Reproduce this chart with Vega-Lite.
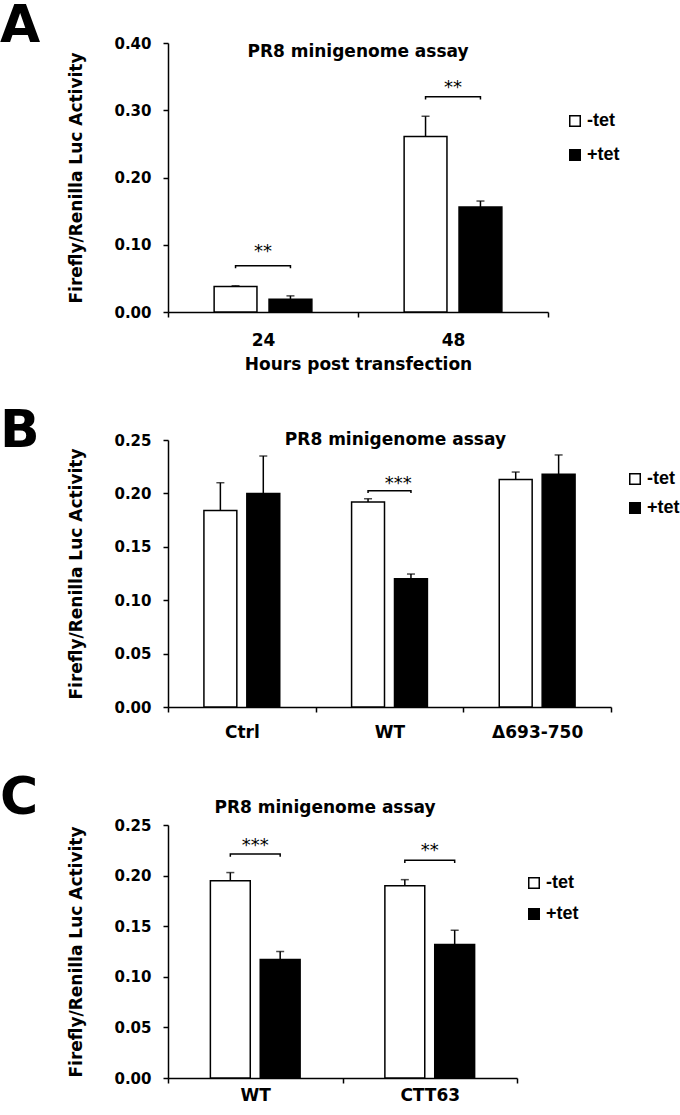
{
  "$schema": "https://vega.github.io/schema/vega-lite/v6.json",
  "padding": 0,
  "background": "white",
  "spacing": 32,
  "config": {
    "view": {"stroke": null},
    "font": "DejaVu Sans",
    "axis": {"domainColor": "black", "domainWidth": 1.5, "tickColor": "black", "tickWidth": 1.5, "tickSize": 5, "labelColor": "black", "labelFont": "DejaVu Sans", "labelFontWeight": "bold", "titleColor": "black", "titleFont": "DejaVu Sans", "titleFontWeight": "bold", "titleFontSize": 17, "grid": false},
    "legend": {"orient": "none", "title": null, "symbolType": "square", "symbolSize": 110, "symbolStrokeColor": "black", "symbolStrokeWidth": 1.5, "labelFont": "Liberation Sans", "labelFontWeight": "bold", "labelFontSize": 18, "labelColor": "black", "labelOffset": 3, "padding": 0},
    "title": {"font": "DejaVu Sans", "fontWeight": "bold", "fontSize": 52, "color": "black", "anchor": "start", "frame": "group", "baseline": "alphabetic"}
  },
  "resolve": {"scale": {"x": "independent", "y": "independent", "fill": "independent", "xOffset": "independent"}, "legend": {"fill": "independent"}},
  "datasets": {
    "a_bars": [
      {"hours": "24", "cond": "-tet", "value": 0.038, "hi": 0.039},
      {"hours": "24", "cond": "+tet", "value": 0.019, "hi": 0.024},
      {"hours": "48", "cond": "-tet", "value": 0.261, "hi": 0.291},
      {"hours": "48", "cond": "+tet", "value": 0.156, "hi": 0.165}
    ],
    "a_brackets": [
      {"hours": "24", "cond": "-tet", "value": 0.065, "seq": 1, "id": "a24"},
      {"hours": "24", "cond": "-tet", "value": 0.0688, "seq": 2, "id": "a24"},
      {"hours": "24", "cond": "+tet", "value": 0.0688, "seq": 3, "id": "a24"},
      {"hours": "24", "cond": "+tet", "value": 0.065, "seq": 4, "id": "a24"},
      {"hours": "48", "cond": "-tet", "value": 0.316, "seq": 1, "id": "a48"},
      {"hours": "48", "cond": "-tet", "value": 0.320, "seq": 2, "id": "a48"},
      {"hours": "48", "cond": "+tet", "value": 0.320, "seq": 3, "id": "a48"},
      {"hours": "48", "cond": "+tet", "value": 0.316, "seq": 4, "id": "a48"}
    ],
    "a_stars": [
      {"hours": "24", "value": 0.082, "label": "**"},
      {"hours": "48", "value": 0.325, "label": "**"}
    ],
    "a_title": [{"hours": "48", "value": 0.379, "label": "PR8 minigenome assay"}],
    "b_bars": [
      {"grp": "Ctrl", "cond": "-tet", "value": 0.184, "hi": 0.210},
      {"grp": "Ctrl", "cond": "+tet", "value": 0.200, "hi": 0.235},
      {"grp": "WT", "cond": "-tet", "value": 0.192, "hi": 0.195},
      {"grp": "WT", "cond": "+tet", "value": 0.120, "hi": 0.1245},
      {"grp": "Δ693-750", "cond": "-tet", "value": 0.213, "hi": 0.220},
      {"grp": "Δ693-750", "cond": "+tet", "value": 0.218, "hi": 0.236}
    ],
    "b_brackets": [
      {"grp": "WT", "cond": "-tet", "value": 0.2004, "seq": 1, "id": "bwt"},
      {"grp": "WT", "cond": "-tet", "value": 0.2025, "seq": 2, "id": "bwt"},
      {"grp": "WT", "cond": "+tet", "value": 0.2025, "seq": 3, "id": "bwt"},
      {"grp": "WT", "cond": "+tet", "value": 0.2004, "seq": 4, "id": "bwt"}
    ],
    "b_stars": [{"grp": "WT", "value": 0.2045, "label": "***"}],
    "b_title": [{"grp": "WT", "value": 0.2456, "label": "PR8 minigenome assay"}],
    "c_bars": [
      {"grp2": "WT", "cond": "-tet", "value": 0.195, "hi": 0.203},
      {"grp2": "WT", "cond": "+tet", "value": 0.117, "hi": 0.125},
      {"grp2": "CTT63", "cond": "-tet", "value": 0.190, "hi": 0.196},
      {"grp2": "CTT63", "cond": "+tet", "value": 0.132, "hi": 0.146}
    ],
    "c_brackets": [
      {"grp2": "WT", "cond": "-tet", "value": 0.2187, "seq": 1, "id": "cwt"},
      {"grp2": "WT", "cond": "-tet", "value": 0.2213, "seq": 2, "id": "cwt"},
      {"grp2": "WT", "cond": "+tet", "value": 0.2213, "seq": 3, "id": "cwt"},
      {"grp2": "WT", "cond": "+tet", "value": 0.2187, "seq": 4, "id": "cwt"},
      {"grp2": "CTT63", "cond": "-tet", "value": 0.2124, "seq": 1, "id": "cctt"},
      {"grp2": "CTT63", "cond": "-tet", "value": 0.2151, "seq": 2, "id": "cctt"},
      {"grp2": "CTT63", "cond": "+tet", "value": 0.2151, "seq": 3, "id": "cctt"},
      {"grp2": "CTT63", "cond": "+tet", "value": 0.2124, "seq": 4, "id": "cctt"}
    ],
    "c_stars": [
      {"grp2": "WT", "value": 0.2243, "label": "***"},
      {"grp2": "CTT63", "value": 0.2194, "label": "**"}
    ],
    "c_title": [{"grp2": "WT", "value": 0.2619, "label": "PR8 minigenome assay"}]
  },
  "vconcat": [
    {
      "title": {"text": "A", "offset": -17.3, "dx": -168},
      "width": 380,
      "height": 269,
      "layer": [
        {
          "data": {"name": "a_bars"},
          "mark": {"type": "bar", "stroke": "black", "strokeWidth": 1.5},
          "encoding": {
            "x": {"field": "hours", "type": "nominal", "sort": ["24", "48"], "scale": {"paddingInner": 0, "paddingOuter": 0}, "axis": {"title": "Hours post transfection", "labelAngle": 0, "labelFontSize": 17, "labelPadding": 15, "titlePadding": 8, "tickBand": "extent"}},
            "xOffset": {"field": "cond", "type": "nominal", "sort": ["-tet", "+tet"], "scale": {"paddingInner": 0.22, "paddingOuter": 0.84}},
            "y": {"field": "value", "type": "quantitative", "scale": {"domain": [0, 0.4], "nice": false}, "axis": {"title": "Firefly/Renilla Luc Activity", "values": [0, 0.1, 0.2, 0.3, 0.4], "format": ".2f", "labelFontSize": 15, "labelPadding": 12, "titlePadding": 28}},
            "fill": {"field": "cond", "type": "nominal", "scale": {"domain": ["-tet", "+tet"], "range": ["white", "black"]}, "legend": {"legendX": 398, "legendY": 69, "rowPadding": 16}}
          }
        },
        {
          "data": {"name": "a_bars"},
          "mark": {"type": "rule", "color": "black", "strokeWidth": 1.5},
          "encoding": {
            "x": {"field": "hours", "type": "nominal", "sort": ["24", "48"]},
            "xOffset": {"field": "cond", "type": "nominal", "sort": ["-tet", "+tet"]},
            "y": {"field": "value", "type": "quantitative"},
            "y2": {"field": "hi"}
          }
        },
        {
          "data": {"name": "a_bars"},
          "mark": {"type": "tick", "orient": "horizontal", "color": "black", "size": 8, "thickness": 1.5},
          "encoding": {
            "x": {"field": "hours", "type": "nominal", "sort": ["24", "48"]},
            "xOffset": {"field": "cond", "type": "nominal", "sort": ["-tet", "+tet"]},
            "y": {"field": "hi", "type": "quantitative"}
          }
        },
        {
          "data": {"name": "a_brackets"},
          "mark": {"type": "line", "color": "black", "strokeWidth": 1.5},
          "encoding": {
            "x": {"field": "hours", "type": "nominal", "sort": ["24", "48"]},
            "xOffset": {"field": "cond", "type": "nominal", "sort": ["-tet", "+tet"]},
            "y": {"field": "value", "type": "quantitative"},
            "detail": {"field": "id"},
            "order": {"field": "seq"}
          }
        },
        {
          "data": {"name": "a_stars"},
          "mark": {"type": "text", "font": "DejaVu Sans", "fontSize": 18, "color": "black", "baseline": "alphabetic"},
          "encoding": {
            "x": {"field": "hours", "type": "nominal", "sort": ["24", "48"]},
            "y": {"field": "value", "type": "quantitative"},
            "text": {"field": "label"}
          }
        },
        {
          "data": {"name": "a_title"},
          "mark": {"type": "text", "font": "DejaVu Sans", "fontWeight": "bold", "fontSize": 17, "color": "black", "baseline": "alphabetic"},
          "encoding": {
            "x": {"field": "hours", "type": "nominal", "sort": ["24", "48"], "bandPosition": 0},
            "y": {"field": "value", "type": "quantitative"},
            "text": {"field": "label"}
          }
        }
      ]
    },
    {
      "title": {"text": "B", "offset": -27, "dx": -168},
      "width": 443,
      "height": 267,
      "layer": [
        {
          "data": {"name": "b_bars"},
          "mark": {"type": "bar", "stroke": "black", "strokeWidth": 1.5},
          "encoding": {
            "x": {"field": "grp", "type": "nominal", "sort": ["Ctrl", "WT", "Δ693-750"], "scale": {"paddingInner": 0, "paddingOuter": 0}, "axis": {"title": null, "labelAngle": 0, "labelFontSize": 17, "labelPadding": 12, "tickBand": "extent"}},
            "xOffset": {"field": "cond", "type": "nominal", "sort": ["-tet", "+tet"], "scale": {"paddingInner": 0.233, "paddingOuter": 0.837}},
            "y": {"field": "value", "type": "quantitative", "scale": {"domain": [0, 0.25], "nice": false}, "axis": {"title": "Firefly/Renilla Luc Activity", "values": [0, 0.05, 0.1, 0.15, 0.2, 0.25], "format": ".2f", "labelFontSize": 15, "labelPadding": 12, "titlePadding": 28}},
            "fill": {"field": "cond", "type": "nominal", "scale": {"domain": ["-tet", "+tet"], "range": ["white", "black"]}, "legend": {"legendX": 458, "legendY": 30, "rowPadding": 11}}
          }
        },
        {
          "data": {"name": "b_bars"},
          "mark": {"type": "rule", "color": "black", "strokeWidth": 1.5},
          "encoding": {
            "x": {"field": "grp", "type": "nominal", "sort": ["Ctrl", "WT", "Δ693-750"]},
            "xOffset": {"field": "cond", "type": "nominal", "sort": ["-tet", "+tet"]},
            "y": {"field": "value", "type": "quantitative"},
            "y2": {"field": "hi"}
          }
        },
        {
          "data": {"name": "b_bars"},
          "mark": {"type": "tick", "orient": "horizontal", "color": "black", "size": 8, "thickness": 1.5},
          "encoding": {
            "x": {"field": "grp", "type": "nominal", "sort": ["Ctrl", "WT", "Δ693-750"]},
            "xOffset": {"field": "cond", "type": "nominal", "sort": ["-tet", "+tet"]},
            "y": {"field": "hi", "type": "quantitative"}
          }
        },
        {
          "data": {"name": "b_brackets"},
          "mark": {"type": "line", "color": "black", "strokeWidth": 1.5},
          "encoding": {
            "x": {"field": "grp", "type": "nominal", "sort": ["Ctrl", "WT", "Δ693-750"]},
            "xOffset": {"field": "cond", "type": "nominal", "sort": ["-tet", "+tet"]},
            "y": {"field": "value", "type": "quantitative"},
            "detail": {"field": "id"},
            "order": {"field": "seq"}
          }
        },
        {
          "data": {"name": "b_stars"},
          "mark": {"type": "text", "font": "DejaVu Sans", "fontSize": 18, "color": "black", "baseline": "alphabetic"},
          "encoding": {
            "x": {"field": "grp", "type": "nominal", "sort": ["Ctrl", "WT", "Δ693-750"], "bandPosition": 0.56},
            "y": {"field": "value", "type": "quantitative"},
            "text": {"field": "label"}
          }
        },
        {
          "data": {"name": "b_title"},
          "mark": {"type": "text", "font": "DejaVu Sans", "fontWeight": "bold", "fontSize": 17, "color": "black", "baseline": "alphabetic"},
          "encoding": {
            "x": {"field": "grp", "type": "nominal", "sort": ["Ctrl", "WT", "Δ693-750"], "bandPosition": 0.54},
            "y": {"field": "value", "type": "quantitative"},
            "text": {"field": "label"}
          }
        }
      ]
    },
    {
      "title": {"text": "C", "offset": -26.5, "dx": -168},
      "width": 349,
      "height": 253,
      "layer": [
        {
          "data": {"name": "c_bars"},
          "mark": {"type": "bar", "stroke": "black", "strokeWidth": 1.5},
          "encoding": {
            "x": {"field": "grp2", "type": "nominal", "sort": ["WT", "CTT63"], "scale": {"paddingInner": 0, "paddingOuter": 0}, "axis": {"title": null, "labelAngle": 0, "labelFontSize": 17, "labelPadding": 4, "tickBand": "extent"}},
            "xOffset": {"field": "cond", "type": "nominal", "sort": ["-tet", "+tet"], "scale": {"paddingInner": 0.2, "paddingOuter": 0.85}},
            "y": {"field": "value", "type": "quantitative", "scale": {"domain": [0, 0.25], "nice": false}, "axis": {"title": "Firefly/Renilla Luc Activity", "values": [0, 0.05, 0.1, 0.15, 0.2, 0.25], "format": ".2f", "labelFontSize": 15, "labelPadding": 12, "titlePadding": 28}},
            "fill": {"field": "cond", "type": "nominal", "scale": {"domain": ["-tet", "+tet"], "range": ["white", "black"]}, "legend": {"legendX": 357, "legendY": 49, "rowPadding": 13}}
          }
        },
        {
          "data": {"name": "c_bars"},
          "mark": {"type": "rule", "color": "black", "strokeWidth": 1.5},
          "encoding": {
            "x": {"field": "grp2", "type": "nominal", "sort": ["WT", "CTT63"]},
            "xOffset": {"field": "cond", "type": "nominal", "sort": ["-tet", "+tet"]},
            "y": {"field": "value", "type": "quantitative"},
            "y2": {"field": "hi"}
          }
        },
        {
          "data": {"name": "c_bars"},
          "mark": {"type": "tick", "orient": "horizontal", "color": "black", "size": 8, "thickness": 1.5},
          "encoding": {
            "x": {"field": "grp2", "type": "nominal", "sort": ["WT", "CTT63"]},
            "xOffset": {"field": "cond", "type": "nominal", "sort": ["-tet", "+tet"]},
            "y": {"field": "hi", "type": "quantitative"}
          }
        },
        {
          "data": {"name": "c_brackets"},
          "mark": {"type": "line", "color": "black", "strokeWidth": 1.5},
          "encoding": {
            "x": {"field": "grp2", "type": "nominal", "sort": ["WT", "CTT63"]},
            "xOffset": {"field": "cond", "type": "nominal", "sort": ["-tet", "+tet"]},
            "y": {"field": "value", "type": "quantitative"},
            "detail": {"field": "id"},
            "order": {"field": "seq"}
          }
        },
        {
          "data": {"name": "c_stars"},
          "mark": {"type": "text", "font": "DejaVu Sans", "fontSize": 18, "color": "black", "baseline": "alphabetic"},
          "encoding": {
            "x": {"field": "grp2", "type": "nominal", "sort": ["WT", "CTT63"]},
            "y": {"field": "value", "type": "quantitative"},
            "text": {"field": "label"}
          }
        },
        {
          "data": {"name": "c_title"},
          "mark": {"type": "text", "font": "DejaVu Sans", "fontWeight": "bold", "fontSize": 17, "color": "black", "baseline": "alphabetic"},
          "encoding": {
            "x": {"field": "grp2", "type": "nominal", "sort": ["WT", "CTT63"], "bandPosition": 0.9},
            "y": {"field": "value", "type": "quantitative"},
            "text": {"field": "label"}
          }
        }
      ]
    }
  ]
}
